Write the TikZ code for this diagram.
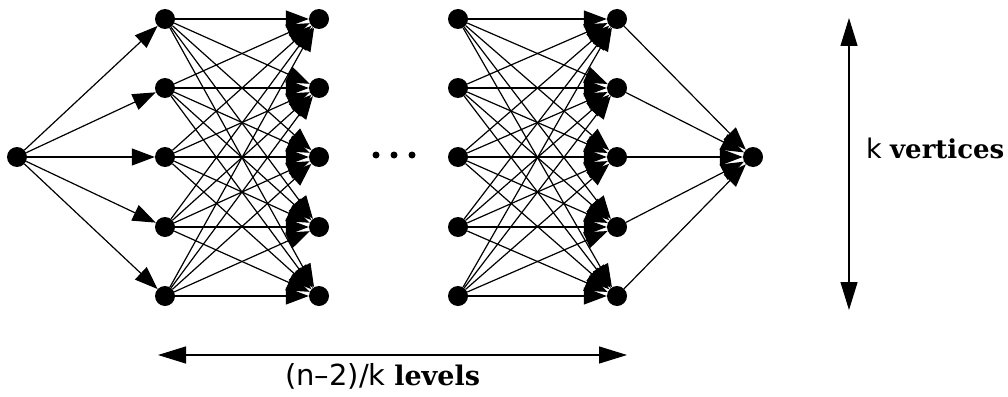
\documentclass[tikz,border=0pt]{standalone}
\usepackage{fontspec}
\setmainfont{DejaVu Serif}
\newfontfamily\ksans{DejaVu Sans}
\usetikzlibrary{arrows.meta}
\begin{document}
\begin{tikzpicture}[x=1pt,y=-1pt,
 vtx/.style={circle,fill,inner sep=0pt,minimum size=20pt},
 dotv/.style={circle,fill,inner sep=0pt,minimum size=7pt},
 edge/.style={line width=1.2pt,-{Triangle[length=23pt,width=17pt]}},
 dim/.style={line width=1.2pt,{Triangle[length=28pt,width=17pt]}-{Triangle[length=28pt,width=17pt]}},
 lbl/.style={font=\fontsize{26}{30}\selectfont,inner sep=0pt,anchor=base west}]
\useasboundingbox (0,0) rectangle (1008,396);
\node[vtx] (s) at (17,157) {};
\foreach \i/\y in {1/19,2/88,3/157,4/227,5/296}{
 \node[vtx] (a\i) at (165,\y) {};
 \node[vtx] (b\i) at (319,\y) {};
 \node[vtx] (c\i) at (458,\y) {};
 \node[vtx] (d\i) at (617,\y) {};
}
\node[vtx] (t) at (753,157) {};
\foreach \i in {1,...,5}{
 \draw[edge] (s) -- (a\i);
 \draw[edge] (d\i) -- (t);
 \foreach \j in {1,...,5}{
  \draw[edge] (a\i) -- (b\j);
  \draw[edge] (c\i) -- (d\j);
 }
}
\node[dotv] (p1) at (376,155) {};
\node[dotv] (p2) at (394,155) {};
\node[dotv] (p3) at (412,155) {};
\coordinate (vt) at (849,18);
\coordinate (vb) at (849,310);
\draw[dim] (vt) -- (vb);
\node[lbl] (kv) at (866,158) {{\ksans\fontsize{27}{30}\selectfont k} \textbf{vertices}};
\coordinate (hl) at (158,355);
\coordinate (hr) at (627,355);
\draw[dim] (hl) -- (hr);
\node[lbl,font=\fontsize{27}{30}\selectfont] (nl) at (285,385) {{\ksans\fontsize{29}{32}\selectfont (n–2)/k} \textbf{levels}};
\end{tikzpicture}
\end{document}
